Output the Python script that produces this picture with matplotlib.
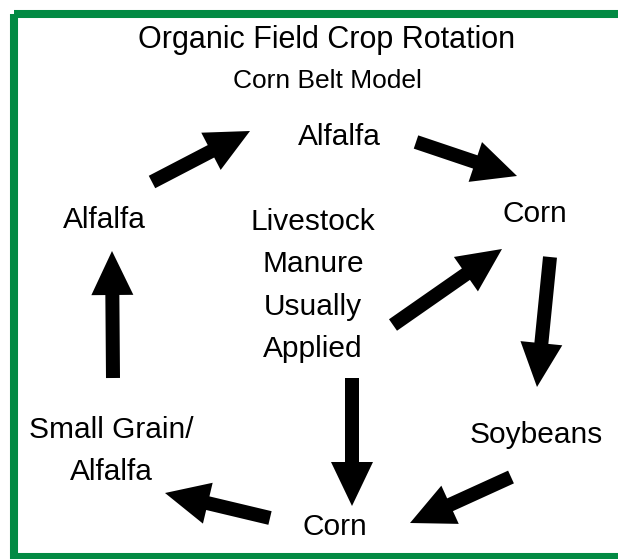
import matplotlib
matplotlib.use("Agg")
import matplotlib.pyplot as plt
from matplotlib.patches import Rectangle

# labels of the rotation cycle: (text lines, x center, baseline y of first line)
label_lines = [
    ["Alfalfa"],
    ["Corn"],
    ["Soybeans"],
    ["Corn"],
    ["Small Grain/", "Alfalfa"],
    ["Alfalfa"],
    ["Livestock", "Manure", "Usually", "Applied"],
]
label_x = [339, 535, 536, 335, 111, 104, 313]
label_y = [145, 222, 443, 535, 438, 228, 230]

# arrows, pixel coordinates of tail and tip
arrow_start = [(152, 182), (416, 142), (393, 325), (550, 257),
               (352, 378), (511, 477), (270, 518), (113, 378)]
arrow_end = [(250, 131), (517, 176), (502, 249), (537, 387),
             (352, 506), (410, 523), (165, 493), (112, 251)]

title = "Organic Field Crop Rotation"
subtitle = "Corn Belt Model"
green = "#028a43"

W, H = 618, 559
fig = plt.figure(figsize=(W / 100, H / 100), dpi=100)
ax = fig.add_axes([0, 0, 1, 1])
ax.set_xlim(0, W)
ax.set_ylim(H, 0)
ax.axis('off')

# green frame (right side runs off the picture)
ax.add_patch(Rectangle((13.5, 14), 700, 542.5, fill=False,
                       edgecolor=green, linewidth=5.8))

font = 'Liberation Sans'
ax.text(327, 48, title, ha='center', va='baseline', fontsize=22, family=font)
ax.text(327, 88, subtitle, ha='center', va='baseline', fontsize=19, family=font)

line_gap = 42.3
for lines, x, y in zip(label_lines, label_x, label_y):
    for i, line in enumerate(lines):
        ax.text(x, y + i * line_gap, line, ha='center', va='baseline',
                fontsize=21.5, family=font, color='black')

for (x0, y0), (x1, y1) in zip(arrow_start, arrow_end):
    ax.arrow(x0, y0, x1 - x0, y1 - y0, width=14, head_width=42,
             head_length=44, length_includes_head=True,
             facecolor='black', edgecolor='none')

fig.savefig('out.png', dpi=100)
